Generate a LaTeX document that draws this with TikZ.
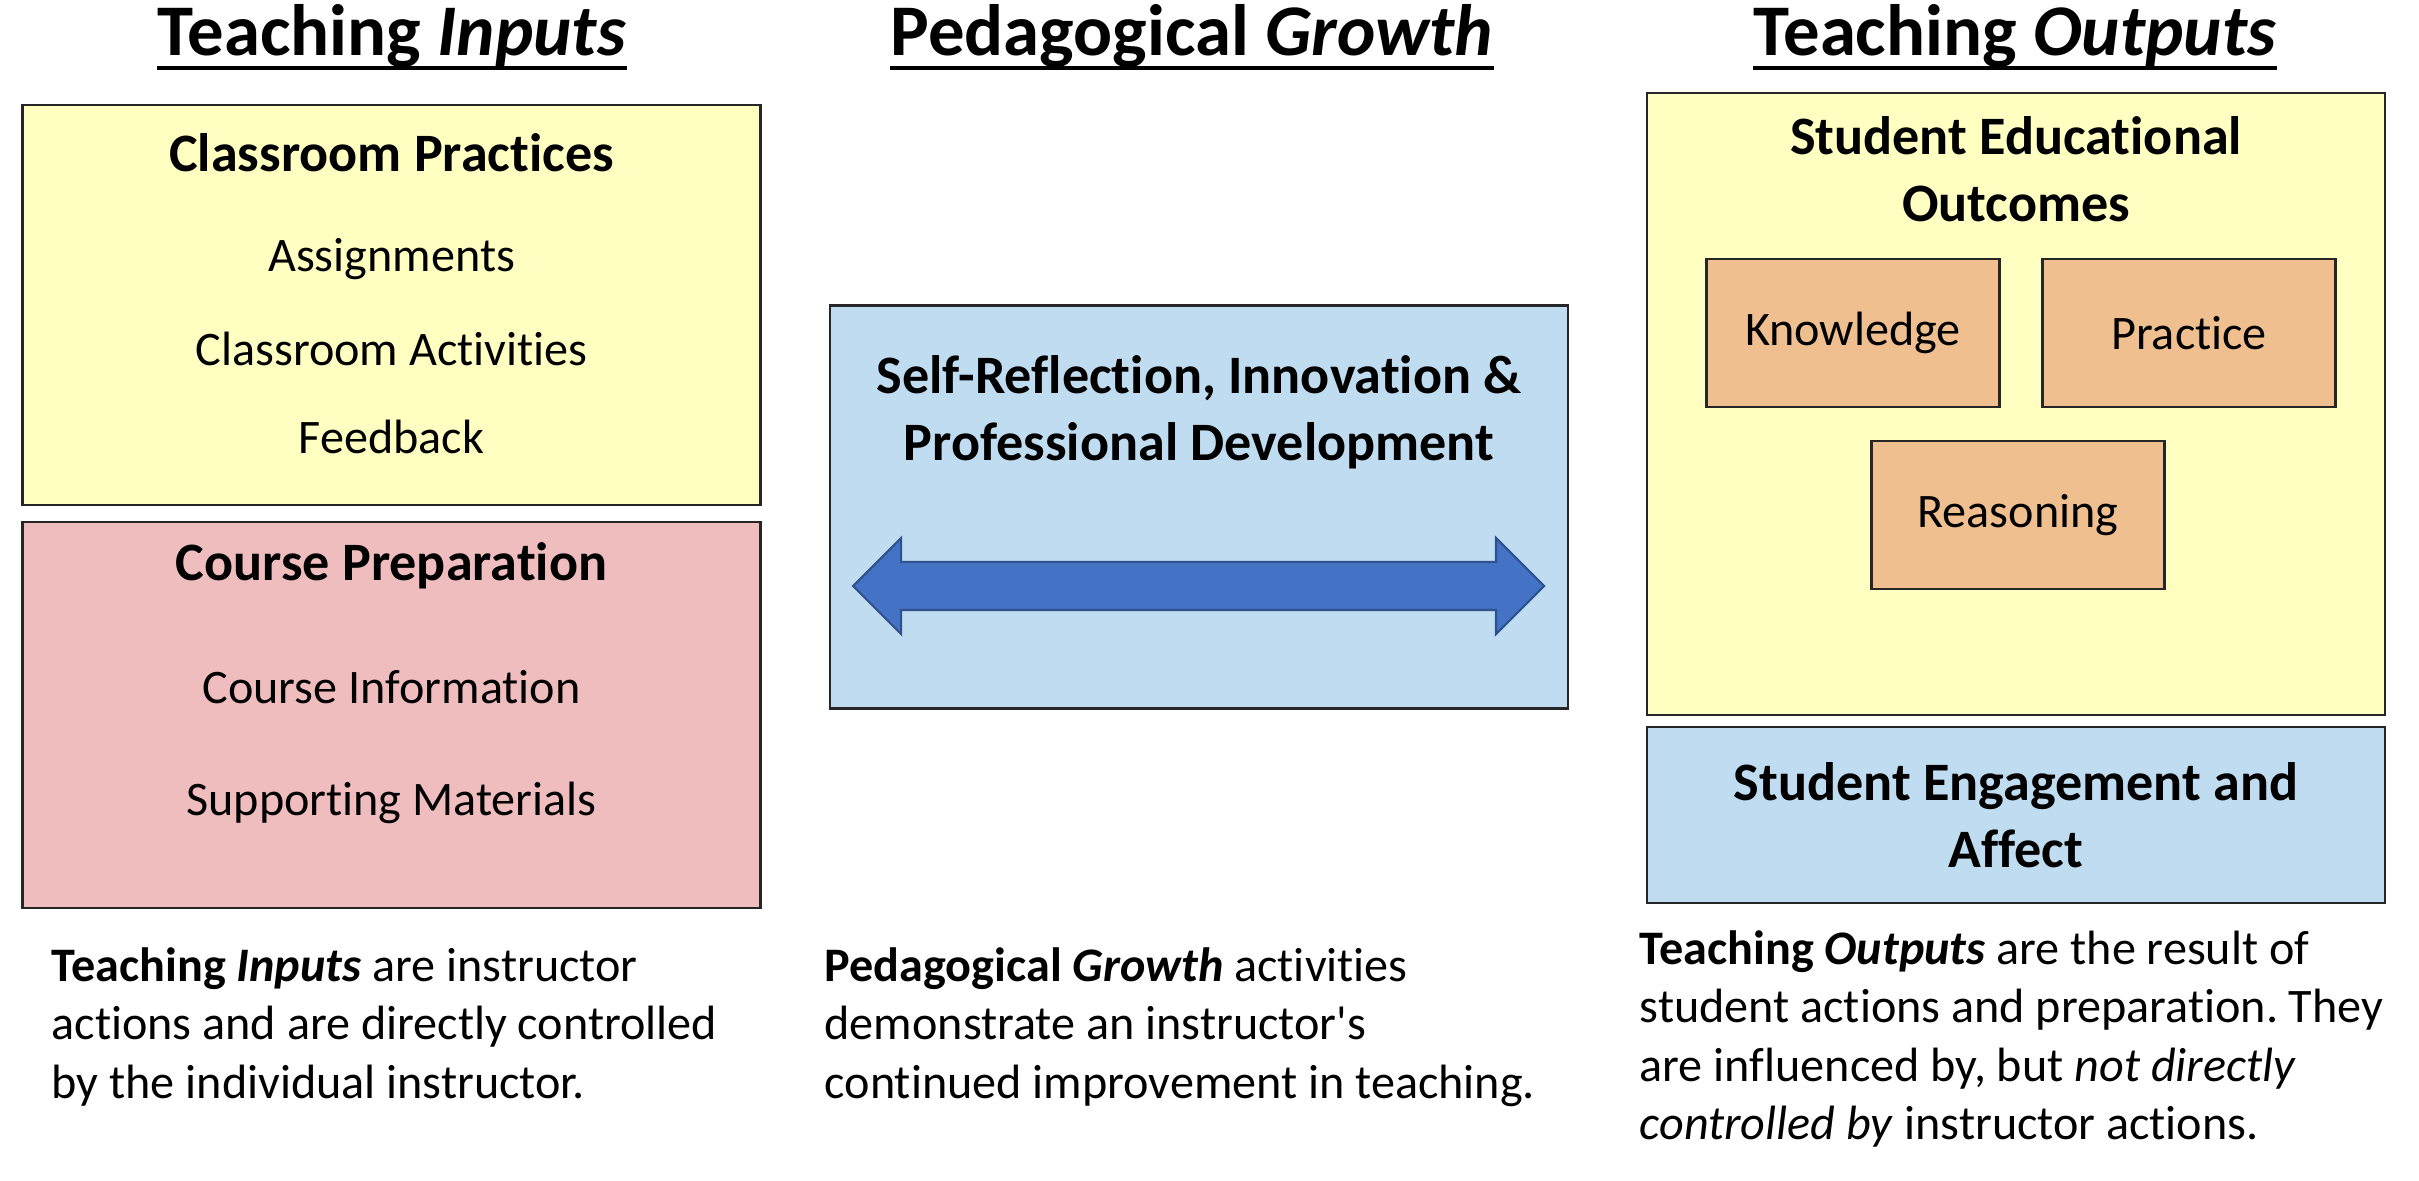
\documentclass[tikz,border=0pt]{standalone}
\usepackage{fontspec}
\setmainfont{Carlito}[Ligatures=NoCommon]
\usetikzlibrary{shapes.arrows, positioning, calc}
\definecolor{boxyellow}{HTML}{FFFFC1}
\definecolor{boxpink}{HTML}{EFBDBE}
\definecolor{boxblue}{HTML}{BFDCF0}
\definecolor{boxorange}{HTML}{EFBF90}
\definecolor{arrowblue}{HTML}{4472C4}
\definecolor{arrowedge}{HTML}{2F528F}
\frenchspacing

\begin{document}
\begin{tikzpicture}[ box/.style={draw=black!85, line width=0.7pt,
      minimum width=7.38cm, inner sep=0pt}, subbox/.style={draw=black!85,
      line width=0.7pt, fill=boxorange, minimum width=2.93cm, minimum
      height=1.48cm, font=\fontsize{13.7}{16}\selectfont}, title/.style={anchor=base,
      inner xsep=0pt, font=\fontsize{20.7}{24}\bfseries\selectfont},
      titlerule/.style={line width=1.4pt}, heading/.style={align=center,
      font=\fontsize{15.4}{19}\bfseries\selectfont}, item/.style={font=\fontsize{13.7}{16}\selectfont},
      caption/.style={anchor=north west, align=left, inner sep=0pt,
      font=\fontsize{13.7}{16.6}\selectfont} ]

    \useasboundingbox (0,0) rectangle (24.19,11.80);

    % Column titles
    \node[title] (tin) at (3.92,11.24) {Teaching \textit{Inputs}};
    \node[title] (tgr) at (11.92,11.24) {Pedagogical \textit{Growth}};
    \node[title] (tout) at (20.15,11.24) {Teaching \textit{Outputs}};
    \draw[titlerule] ([yshift=-0.12cm]tin.base west) -- ([yshift=-0.12cm]tin.base east);
    \draw[titlerule] ([yshift=-0.12cm]tgr.base west) -- ([yshift=-0.12cm]tgr.base east);
    \draw[titlerule] ([yshift=-0.12cm]tout.base west) -- ([yshift=-0.12cm]tout.base east);

    % Inputs column
    \node[box, fill=boxyellow, minimum height=4cm] (cp) at (3.916,8.75) {};
    \node[box, fill=boxpink, minimum height=3.86cm] (prep) at (3.916,4.65) {};
    \node[heading] at (3.916,10.27) {Classroom Practices};
    \node[item] at (3.916,9.21) {Assignments};
    \node[item] at (3.916,8.31) {Classroom Activities};
    \node[item] at (3.916,7.43) {Feedback};
    \node[heading] at (3.916,6.14) {Course Preparation};
    \node[item] at (3.916,4.93) {Course Information};
    \node[item] at (3.916,3.77) {Supporting Materials};

    % Growth column
    \node[box, fill=boxblue, minimum height=4.03cm] (growth) at (11.99,6.73) {};
    \node[heading] at (11.99,7.675) {Self-Reflection, Innovation \&\\Professional Development};
    \node[double arrow, draw=arrowedge, fill=arrowblue, line width=0.6pt,
    inner xsep=0pt, inner ysep=0.23cm, minimum height=6.91cm, minimum
    width=0.95cm, double arrow head extend=0.24cm] (loop) at (11.985,5.94) {};

    % Outputs column
    \node[box, fill=boxyellow, minimum height=6.22cm] (seo) at (20.16,7.76) {};
    \node[heading] at (20.16,10.11) {Student Educational\\Outcomes};
    \node[subbox] (know) at (18.53,8.47) {Knowledge};
    \node[subbox] (prac) at (21.89,8.47) {Practice};
    \node[subbox] (reas) at (20.18,6.65) {Reasoning};
    \node[box, fill=boxblue, minimum height=1.76cm, heading] (eng) at (20.16,3.65)
    {Student Engagement and\\Affect};

    % Captions
    \node[caption] (capin) at (0.51,2.33) {\textbf{Teaching \textit{Inputs}} are
    instructor\\actions and are directly controlled\\by the individual
    instructor.};
    \node[caption] (capgr) at (8.24,2.33) {\textbf{Pedagogical \textit{Growth}}
    activities\\demonstrate an instructor\textquotesingle s\\continued improvement in
    teaching.};
    \node[caption] (capout) at (16.39,2.50) {\textbf{Teaching \textit{Outputs}} are
    the result of\\student actions and preparation. They\\are influenced by,
    but \textit{not directly}\\\textit{controlled by} instructor actions.};

  \end{tikzpicture}
\end{document}
